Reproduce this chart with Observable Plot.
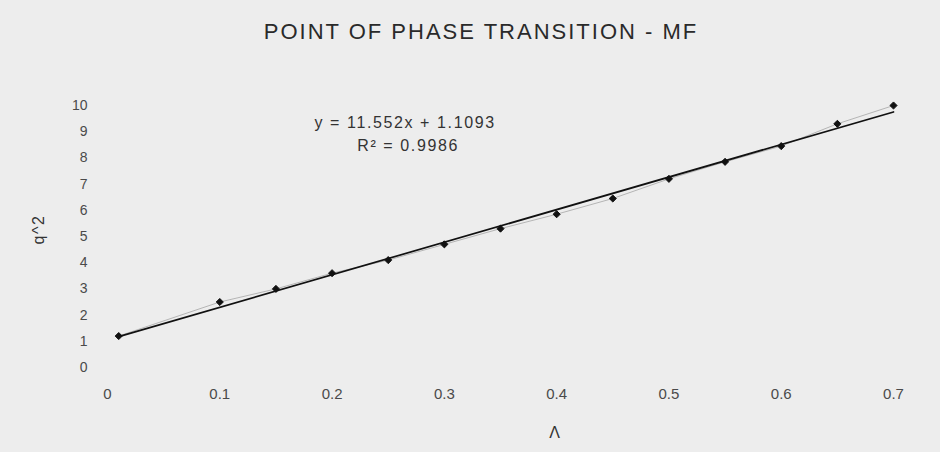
<!DOCTYPE html>
<html>
<head>
<meta charset="utf-8">
<script src="https://cdn.jsdelivr.net/npm/d3@7"></script>
<script src="https://cdn.jsdelivr.net/npm/@observablehq/plot@0.6"></script>
<style>
  html, body { margin: 0; padding: 0; background: #ededed; }
  #wrap { position: relative; width: 940px; height: 452px; background: #ededed; }
  #title { position: absolute; top: 19px; left: 0; width: 962px; text-align: center;
           font-family: "Liberation Sans", Arial, sans-serif; font-size: 22px; color: #2a2a2a; letter-spacing: 2px; }
  g[aria-label="text"] text { letter-spacing: 1.6px; }
</style>
</head>
<body>
<div id="wrap">
  <div id="title">POINT OF PHASE TRANSITION - MF</div>
</div>
<script>
// Data
const lambdaValues = [0.01, 0.1, 0.15, 0.2, 0.25, 0.3, 0.35, 0.4, 0.45, 0.5, 0.55, 0.6, 0.65, 0.7];
const q2Values     = [1.2, 2.5, 3.0, 3.6, 4.1, 4.7, 5.3, 5.85, 6.45, 7.2, 7.85, 8.45, 9.3, 10.0];
const xTicks = [0, 0.1, 0.2, 0.3, 0.4, 0.5, 0.6, 0.7];
const yTicks = [0, 1, 2, 3, 4, 5, 6, 7, 8, 9, 10];
const equationText = "y = 11.552x + 1.1093";
const rSquaredText = "R² = 0.9986";

const data = lambdaValues.map((x, i) => ({x, y: q2Values[i]}));
const font = "Liberation Sans, Arial, sans-serif";

const chart = Plot.plot({
  width: 940,
  height: 452,
  marginLeft: 107,
  marginRight: 47,
  marginTop: 105,
  marginBottom: 85,
  style: {background: "transparent", fontFamily: font, fontSize: "14px", color: "#4a4a4a"},
  x: {domain: [0, 0.7]},
  y: {domain: [0, 10]},
  marks: [
    Plot.axisX({ticks: xTicks, tickSize: 0, tickPadding: 21, label: null, fontSize: 15, tickFormat: d => String(d)}),
    Plot.axisY({ticks: yTicks, tickSize: 0, tickPadding: 20, label: null, fontSize: 14}),
    Plot.line(data, {x: "x", y: "y", stroke: "#b5b5b5", strokeWidth: 1}),
    Plot.linearRegressionY(data, {x: "x", y: "y", stroke: "#111", strokeWidth: 1.7, ci: 0}),
    Plot.dot(data, {x: "x", y: "y", symbol: "diamond2", r: 3.2, fill: "#111", stroke: "#111", strokeWidth: 1}),
    Plot.text([equationText], {x: 0.265, y: 9.35, text: d => d, fontSize: 16, fill: "#333"}),
    Plot.text([rSquaredText], {x: 0.265, y: 9.35, dx: 3, dy: 23, text: d => d, fontSize: 16, fill: "#333"}),
    Plot.text(["Λ"], {frameAnchor: "bottom", dx: 55, dy: 70, text: d => d, fontSize: 16, fill: "#333"}),
    Plot.text(["q^2"], {frameAnchor: "left", dx: -69, dy: 8, rotate: -90, text: d => d, fontSize: 16, fill: "#333"})
  ]
});
document.getElementById("wrap").appendChild(chart);
</script>
</body>
</html>
